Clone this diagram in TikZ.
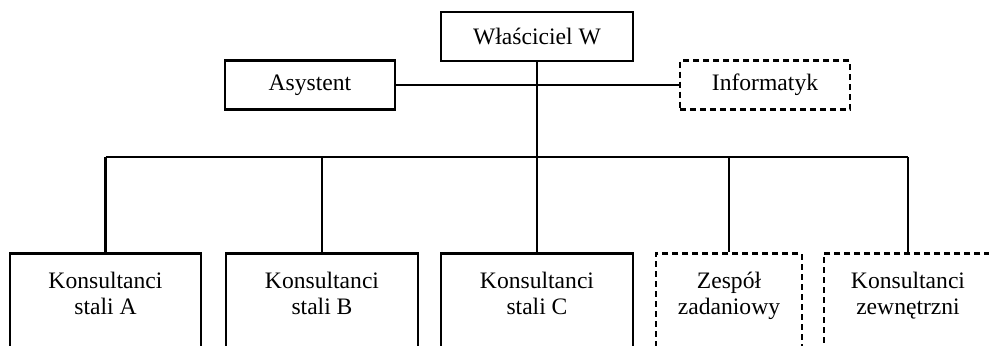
\documentclass[tikz,border=0pt]{standalone}
\usepackage{fontspec}
\setmainfont{Liberation Serif}
\usetikzlibrary{arrows}

\begin{document}
\begin{tikzpicture}[x=0.5pt,y=-0.5pt,line width=1.4pt,font=\fontsize{11.8}{13}\selectfont]
		\tikzstyle{box}=[rectangle, draw=black, minimum height=24.5pt, inner sep=2pt]
		\tikzstyle{ext}=[dash pattern=on 3pt off 2pt]
		\tikzstyle{unit}=[rectangle, draw=black, anchor=north, align=center, inner xsep=2pt, inner ysep=9.5pt, text depth=40pt]

		\useasboundingbox (0,0) rectangle (989,345);

		\node [box, minimum width=96pt] (w) at (537,36.5) {Właściciel W};
		\node [box, minimum width=85pt] (as) at (310,85) {Asystent};
		\node [box, ext, minimum width=85pt] (inf) at (765,85) {Informatyk};

		\node [unit, minimum width=95.5pt] (ka) at (105.5,252) {Konsultanci\\stali A};
		\node [unit, minimum width=96pt] (kb) at (322,252) {Konsultanci\\stali B};
		\node [unit, minimum width=96pt] (kc) at (537,252) {Konsultanci\\stali C};
		\node [unit, ext, minimum width=73pt] (zz) at (729,252) {Zespół\\zadaniowy};
		\node [unit, ext, minimum width=84pt] (kz) at (908,252) {Konsultanci\\zewnętrzni};

		\coordinate (bar) at (537,157);
		\draw (as.east) -- (inf.west);
		\draw (w.south) -- (kc.north);
		\draw (bar -| ka.north) -- (bar -| kz.north);
		\foreach \n in {ka,kb,zz,kz}
			\draw (bar -| \n.north) -- (\n.north);
	\end{tikzpicture}
\end{document}
